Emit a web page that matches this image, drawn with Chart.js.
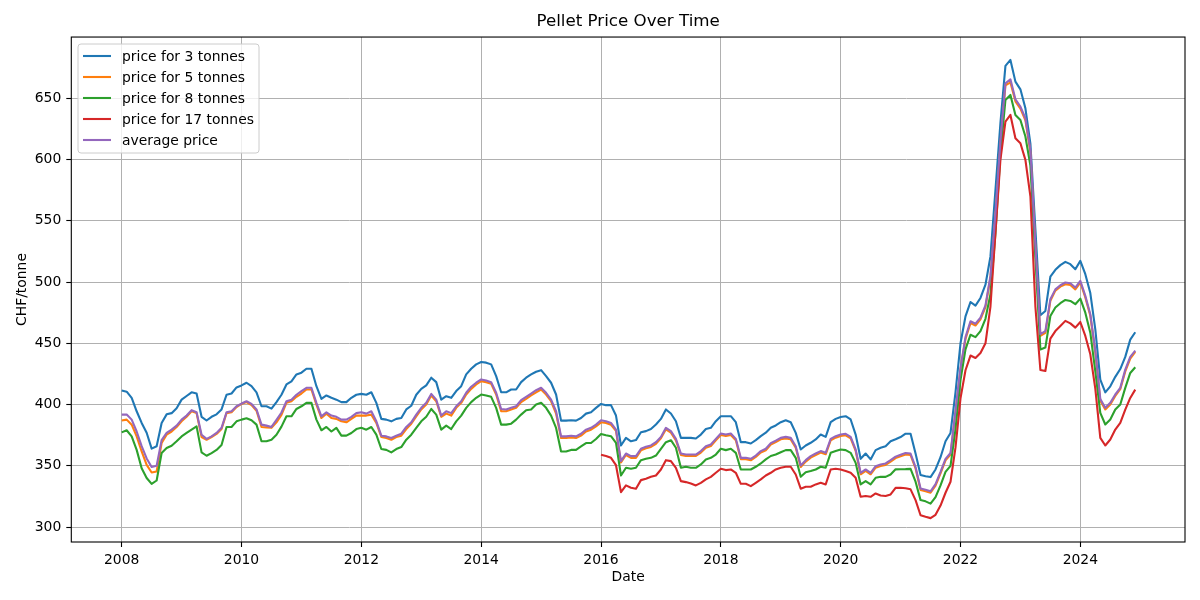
<!DOCTYPE html>
<html><head><meta charset="utf-8">
<script src="https://cdn.jsdelivr.net/npm/chart.js@4.4.1/dist/chart.umd.min.js"></script>
<style>html,body{margin:0;padding:0;background:#fff;}#wrap{width:1200px;height:600px;}</style>
</head><body><div id="wrap"><canvas id="c" width="1200" height="600"></canvas></div>
<script>
// Monthly series, first value = January 2008
const firstYear = 2008;
const price3 = [
411.5,410.5,405.5,394.5,385,377,364,366,385,392,393,397,
404,407,410,409,390,387,390,392,396,408,409,414,
415.6,417.8,415,410,398.6,398.6,396.7,402,408,416.4,419,424.6,
426,429.2,429.2,415,404.6,407.4,405.5,404,402,402,405.5,408,
408.7,408,410,401.4,388.3,387.7,386.3,388.3,389,396,399,408,
412.8,415.6,421.9,418.3,404,406.8,405.5,411,415,424.6,429.2,432.8,
434.7,434.2,432.8,423.2,410,410,412.3,412.3,418.3,421.9,424.6,426.8,
428.1,423.2,417.8,408.2,386.9,386.9,387.2,386.9,389,392.6,393.7,397.3,
400.5,399.5,399.5,391,366.6,372.8,370,371,377.4,378.3,380,383.7,
388.3,396,392.7,386.4,372.8,372.8,372.8,372.3,375.5,380,381,386.4,
390.5,390.5,390.5,385.6,369.3,369.3,368.2,371,374.2,377,381,382.9,
385.6,387.2,385.6,376.9,363.3,366.6,368.8,371.5,375.5,373.6,385.6,388.3,
389.9,390.5,387.8,375.5,355.7,360,355.2,362.8,364.7,366,370.1,371.7,
373.5,376.2,376.2,360,342.5,341.5,340.8,347,357,370,376.8,410,
450,472,483.7,480.7,487,497.8,520.9,575,630,676.4,681.3,663.6,
657.3,641.8,613,543,472.9,476.4,504.5,510,513.8,516.5,514.6,510.5,
517.3,506.4,491,461.4,420.4,410,414.9,422.6,429,438.9,453,459];
const price5 = [
387,387.7,383.6,374,361.7,350.8,344.5,345.4,368.6,375.4,378,381.7,
386.3,390,394.5,393,373.5,371.3,373.5,376,380,393,393.7,398,
400.5,402,399.5,395,381.7,381.4,381,385.5,391.5,401.4,402.7,406.3,
409,412.3,412.3,400,389,392.6,389,388.3,386.3,385.5,388.3,391,
391,391,391.8,385,373.5,372.7,371.3,373.5,374.6,380,384.4,390.4,
396,400,407.4,402.7,390,392.6,391,397.3,401.4,408.2,412.8,416.4,
419.1,418.3,417,408.2,394.5,394.5,396,397.3,402,404.6,407.4,410,
412.3,408.2,402.7,392.6,372.7,372.7,373.2,372.7,374.6,378,379.5,382.2,
385.5,385,383.5,378.5,352.7,358.8,356.5,356.5,362.6,364.3,365.4,368,
372.4,379.8,377,370.8,358.8,358,358,358,360.8,364.8,366.2,370.8,
375.2,374.3,375.2,370.8,355.3,355.3,354.5,357.2,360.8,362.7,367.3,369.3,
371.6,372.4,371.6,364.8,349.1,353.4,356.7,358.8,360.8,359.4,370.8,373,
374.3,374.9,372.4,362.1,343.1,345.8,343.1,348.5,349.9,350.7,353.4,356.3,
357.8,359.3,358.8,347.8,330.3,329.3,328,333.8,343.8,354.5,359.2,393.5,
428.5,453.5,466.5,464.5,469.5,479.5,503.5,554,612.5,660.5,663,647.5,
641.5,632,606,528,456,458.5,484.6,493,496.3,498.2,497.6,494,
499.6,487.5,472.5,442.5,403.2,396,400,407,412.6,427,437.5,443];
const price8 = [
377.3,379,374,363,348,340,335.2,338,360.4,364.5,366.4,370,
374,376.8,379.5,382.2,361,358.2,360.4,363,367,381.7,381.7,386.3,
387.7,388.8,387.2,383.6,370,370,371.3,375.4,382,390.4,390.4,396.4,
398.6,401.4,401.4,387.7,379,381.7,378,381,374.6,374.6,376.8,380,
381,379.5,381.7,375.4,363.7,363,361,363.7,365.3,371.3,375.4,381,
386.3,390,396.4,391.8,379.5,382.8,380,386.3,391,397.3,402,405.5,
408.2,407.4,406.3,397.3,383.6,383.6,384.4,387.7,391.8,395.4,396,400,
401.4,397.3,391,380.9,361.7,361.7,363,363,365.8,368.6,368.6,371.9,
376,375,374.2,368.8,342.1,348.4,347.6,348.4,354.6,355.7,356.5,358.4,
363.9,369.3,370.9,364.7,348.4,349.2,348.4,348.4,351.1,355.2,356.5,359.2,
363.9,362.8,363.9,360.6,347,347,347,349.2,351.9,355.2,358,359.2,
361.1,362.8,362.8,356.5,341,344.8,345.7,347,349.2,348.4,360.6,362,
363.3,362.8,360.6,352.4,334.8,337.5,334.8,340.2,341,341,342.9,347.1,
347.2,347.3,347.5,337,322,321,319.1,324.5,334,345,350,380,
420,445,457,455,460,470,490,540,605,648.6,652.7,636.4,
632.3,618.8,595,520,445,446.5,472.3,479.2,482.7,485.4,484.6,481.9,
486.5,475,458.7,427,393.2,383.7,387.8,395.9,400,413.6,425.8,430.4];
// 17 tonnes: first value = January 2016
const firstYear17 = 2016;
const price17 = [
359,358,356.5,350.5,328.5,334,332.1,331.3,338.3,339.4,341,342.1,
347,354.6,353.8,348.4,337.5,336.7,335.6,334,336.1,338.9,341,344.3,
347.6,346.5,347,344.3,335.3,335.3,333.4,336.1,338.9,342.1,344.3,347,
348.4,349.2,349.2,342.9,331.3,332.9,332.9,334.8,336.1,334.8,347,347.6,
347,345.7,344.3,340.2,324.7,325.3,324.7,327.4,325.8,325.3,326.6,332,
332.1,331.7,330.8,322,309.6,308.4,307.3,310,317.5,328,337,365,
405,428,440,438,442,450,480,540,600,631,636.4,617.4,
613.3,599.7,570,480,428.2,427.4,453.8,460,464.2,468.3,466.3,462.8,
467.4,456,441,413,372.8,366.6,371.5,379.6,385,395.9,405.4,412.2];
const priceAvg = [
391.8,391.8,387.7,378,366,356,349,350,371,376.8,379.5,382.8,
387.7,391,395.4,393.7,375.4,372,374,376.8,381,393.7,394.5,398.6,
400.8,402.7,400.5,396,383.6,382.8,381.7,387.5,393.5,402.7,404,408,
411,413.7,413.7,401.4,390.4,393.7,391,390,387.7,387.7,390,393,
393.7,392.6,394.5,386.3,374.6,374,372.7,374.6,376.2,381.7,385.5,391.8,
397.3,401.4,408.7,404,391,394.5,393,398.6,402.7,409.6,414.5,417.8,
420.5,419.7,418.3,409.6,396.4,396,397.3,398.6,403.6,406.3,409,411.7,
413.7,409.6,404,394.5,374,374,374.6,374,376.2,379.5,381,383.6,
387.2,386.4,385,379.6,353.8,360,357.9,357.9,363.9,365.5,366.6,369.3,
373.6,381,378.3,372,360,359.2,359.2,359.2,362,366,367.4,372,
376.4,375.5,376.4,372,356.5,356.5,355.7,358.4,362,363.9,368.5,370.5,
372.8,373.6,372.8,366,350.3,354.6,357.9,360,362,360.6,372,374.2,
375.5,376.1,373.6,363.3,344.3,347,344.3,349.7,351.1,351.9,354.6,357.5,
359,360.5,360,349,331.5,330.5,329.2,335,345,355.7,360.4,395,
430,455,468,466,471,481,505,556,615,662.2,665.5,649.2,
643.2,633.7,607.9,530,457.4,460,486,494,497.4,499.6,499,495.5,
501,488.7,473.7,444,404.6,397.3,401.4,408.2,413.6,428.5,438.9,444];
const seriesNames = ['price for 3 tonnes','price for 5 tonnes','price for 8 tonnes','price for 17 tonnes','average price'];
const seriesColors = ['#1f77b4','#ff7f0e','#2ca02c','#d62728','#9467bd'];
const xTickYears = [2008,2010,2012,2014,2016,2018,2020,2022,2024];
const yTickValues = [300,350,400,450,500,550,600,650];

function toPoints(vals, y0) {
  return vals.map((v, i) => ({x: y0 + Math.floor(i / 12) + (i % 12) / 12, y: v}));
}
const FONT = "'DejaVu Sans', sans-serif";
Chart.defaults.font.family = FONT;
Chart.defaults.color = '#000';

const allSeries = [toPoints(price3, firstYear), toPoints(price5, firstYear), toPoints(price8, firstYear), toPoints(price17, firstYear17), toPoints(priceAvg, firstYear)];
const datasets = allSeries.map((pts, k) => ({
  label: seriesNames[k], data: pts, borderColor: seriesColors[k], backgroundColor: seriesColors[k],
  borderWidth: 2.1, pointRadius: 0, tension: 0, fill: false, order: 5 - k,
  borderJoinStyle: 'round', borderCapStyle: 'butt'
}));

const framePlugin = {
  id: 'mplFrame',
  afterDraw(chart) {
    const ctx = chart.ctx, a = chart.chartArea;
    ctx.save();
    ctx.strokeStyle = '#000'; ctx.lineWidth = 1.1;
    ctx.strokeRect(a.left, a.top, a.right - a.left, a.bottom - a.top);
    // legend
    const lx = 78, ly = 44, lw = 181, lh = 109, r = 3;
    ctx.beginPath();
    ctx.moveTo(lx + r, ly); ctx.lineTo(lx + lw - r, ly); ctx.quadraticCurveTo(lx + lw, ly, lx + lw, ly + r);
    ctx.lineTo(lx + lw, ly + lh - r); ctx.quadraticCurveTo(lx + lw, ly + lh, lx + lw - r, ly + lh);
    ctx.lineTo(lx + r, ly + lh); ctx.quadraticCurveTo(lx, ly + lh, lx, ly + lh - r);
    ctx.lineTo(lx, ly + r); ctx.quadraticCurveTo(lx, ly, lx + r, ly); ctx.closePath();
    ctx.fillStyle = 'rgba(255,255,255,0.8)'; ctx.fill();
    ctx.strokeStyle = '#cccccc'; ctx.lineWidth = 1; ctx.stroke();
    ctx.font = '13.9px ' + FONT; ctx.textBaseline = 'middle'; ctx.textAlign = 'left';
    chart.data.datasets.forEach((ds, k) => {
      const yy = 56 + k * 21;
      ctx.strokeStyle = ds.borderColor; ctx.lineWidth = 2.1;
      ctx.beginPath(); ctx.moveTo(83, yy); ctx.lineTo(111, yy); ctx.stroke();
      ctx.fillStyle = '#000'; ctx.fillText(ds.label, 122, yy + 1);
    });
    ctx.restore();
  }
};

new Chart(document.getElementById('c'), {
  type: 'line',
  data: {datasets},
  options: {
    responsive: false, animation: false, devicePixelRatio: 1,
    layout: {padding: {left: 0, right: 15, top: 0, bottom: 0}},
    plugins: {
      legend: {display: false}, tooltip: {enabled: false},
      title: {display: true, text: 'Pellet Price Over Time', fullSize: false, color: '#000',
        font: {size: 16.7, weight: 'normal', family: FONT}, padding: {top: 12, bottom: 5}}
    },
    scales: {
      x: {type: 'linear', min: 2007.159, max: 2025.747,
        afterBuildTicks: s => { s.ticks = xTickYears.map(v => ({value: v})); },
        afterFit: s => { s.height = 58; },
        ticks: {callback: v => String(v), font: {size: 13.9}, color: '#000', padding: 5, maxRotation: 0, autoSkip: false},
        grid: {color: '#b0b0b0', lineWidth: 1, tickLength: 5, tickColor: '#000', tickWidth: 1.1},
        border: {display: false},
        title: {display: true, text: 'Date', color: '#000', font: {size: 13.9}, padding: {top: 0, bottom: 14.7}}
      },
      y: {type: 'linear', min: 287.8, max: 700,
        afterBuildTicks: s => { s.ticks = yTickValues.map(v => ({value: v})); },
        afterFit: s => { s.width = 71.3; },
        ticks: {callback: v => String(v), font: {size: 13.9}, color: '#000', padding: 5, autoSkip: false},
        grid: {color: '#b0b0b0', lineWidth: 1, tickLength: 5, tickColor: '#000', tickWidth: 1.1},
        border: {display: false},
        title: {display: true, text: 'CHF/tonne', color: '#000', font: {size: 13.9}, padding: {top: 13.7, bottom: 0}}
      }
    }
  },
  plugins: [framePlugin]
});
</script></body></html>
